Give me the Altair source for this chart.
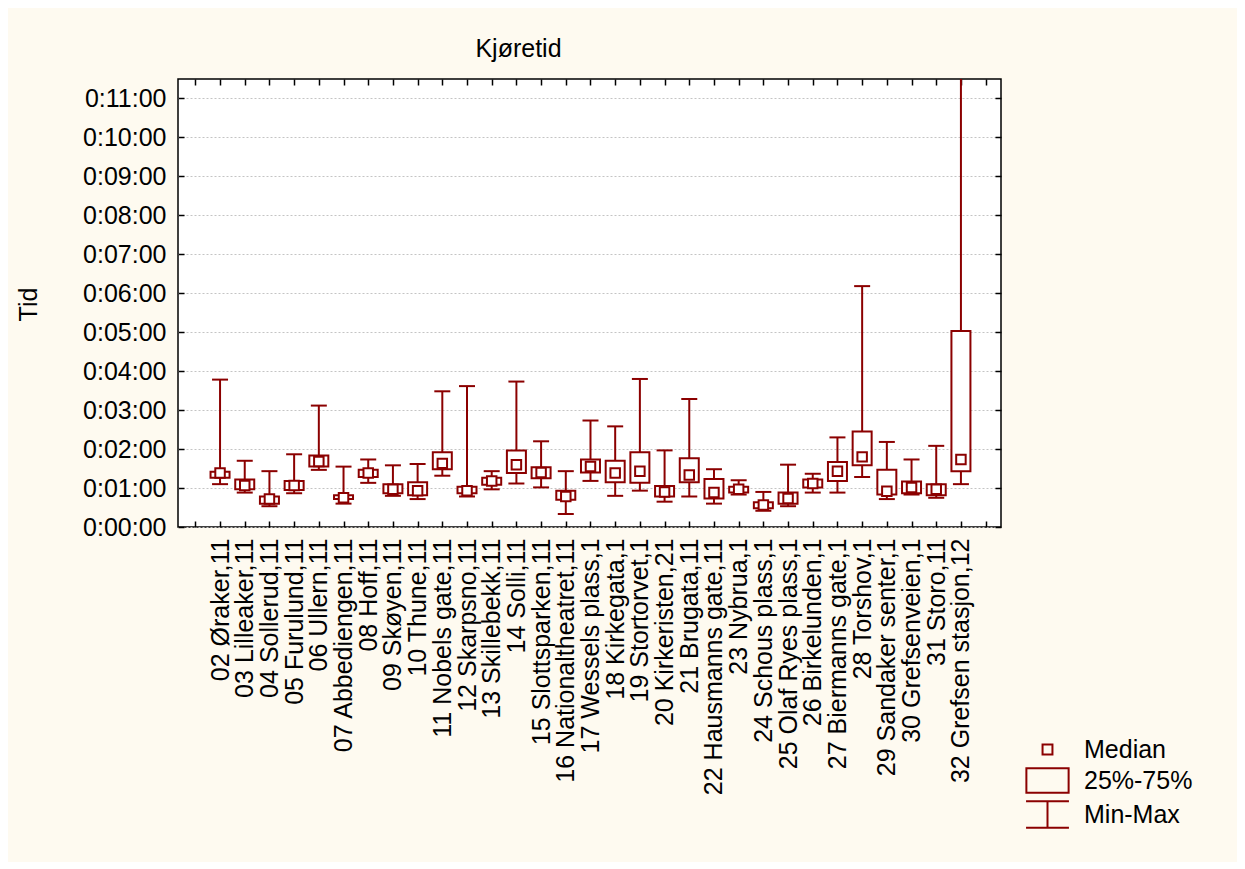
import json
import altair as alt
import pandas as pd

STATIONS = [
    "02 Øraker,11", "03 Lilleaker,11", "04 Sollerud,11", "05 Furulund,11",
    "06 Ullern,11", "07 Abbediengen,11", "08 Hoff,11", "09 Skøyen,11",
    "10 Thune,11", "11 Nobels gate,11", "12 Skarpsno,11", "13 Skillebekk,11",
    "14 Solli,11", "15 Slottsparken,11", "16 Nationaltheatret,11",
    "17 Wessels plass,1", "18 Kirkegata,1", "19 Stortorvet,1",
    "20 Kirkeristen,21", "21 Brugata,11", "22 Hausmanns gate,11",
    "23 Nybrua,1", "24 Schous plass,1", "25 Olaf Ryes plass,1",
    "26 Birkelunden,1", "27 Biermanns gate,1", "28 Torshov,1",
    "29 Sandaker senter,1", "30 Grefsenveien,1", "31 Storo,11",
    "32 Grefsen stasjon,12",
]
# seconds
MINS = [66, 53, 32, 52, 88, 36, 68, 48, 43, 79, 47, 58, 67, 61, 20,
        71, 48, 56, 39, 47, 36, 50, 25, 32, 53, 53, 77, 43, 50, 45, 66]
Q1 = [76, 58, 36, 57, 93, 43, 77, 52, 49, 89, 52, 65, 83, 75, 42,
      84, 69, 68, 47, 69, 44, 53, 29, 36, 61, 71, 95, 50, 52, 49, 86]
MEDIANS = [83, 64, 43, 64, 101, 45, 83, 58, 56, 98, 56, 71, 96, 84, 47,
           93, 83, 86, 54, 80, 53, 58, 34, 44, 67, 86, 108, 55, 61, 58, 104]
Q3 = [85, 73, 47, 71, 110, 49, 88, 66, 69, 115, 62, 76, 118, 92, 56,
      104, 102, 115, 63, 106, 74, 62, 38, 53, 73, 100, 147, 88, 70, 66, 302]
MAXS = [227, 102, 86, 112, 187, 93, 104, 95, 97, 209, 217, 86, 224, 132, 86,
        164, 155, 228, 118, 197, 89, 72, 54, 96, 82, 138, 371, 131, 104, 125, 900]

Y_TICKS = list(range(0, 661, 60))
X_TICKS = list(range(0, len(STATIONS) + 2))
LEGEND_ITEMS = ["Median", "25%-75%", "Min-Max"]

RED = "#8B0000"
FONT = "Liberation Sans"
FS = 25
W, H = 823, 448

PATHS = [
    "M-0.3,-0.3H0.3V0.3H-0.3Z",
    "M-1.28,-0.74H1.28V0.74H-1.28Z",
    "M-1.3,-0.8H1.3M0,-0.8V0.8M-1.3,0.8H1.3",
]

df = pd.DataFrame({
    "pos": list(range(1, len(STATIONS) + 1)),
    "station": STATIONS,
    "min": MINS, "q1": Q1, "median": MEDIANS, "q3": Q3, "max": MAXS,
})
legend_df = pd.DataFrame({"element": LEGEND_ITEMS})

xs = alt.Scale(domain=[-0.5, 32.42], nice=False, zero=False)
ys = alt.Scale(domain=[0, 690], nice=False, zero=True)

names_js = json.dumps(STATIONS, ensure_ascii=False)
x_label_expr = (
    f"datum.value >= 1 && datum.value <= {len(STATIONS)} ? "
    f"{names_js}[datum.value - 1] : ''"
)
y_label_expr = "'0:' + (datum.value < 600 ? '0' : '') + floor(datum.value / 60) + ':00'"

x_main = alt.Axis(
    orient="bottom", values=X_TICKS, labelExpr=x_label_expr, labelAngle=270,
    labelAlign="right", labelBaseline="middle", labelPadding=11,
    labelFontSize=FS, labelFont=FONT, labelColor="black", labelOverlap=False,
    labelFlush=False, labelBound=False, labelLimit=0, ticks=False, tickSize=0,
    domain=False, grid=False, title=None,
)
y_main = alt.Axis(
    orient="left", values=Y_TICKS, labelExpr=y_label_expr, labelPadding=12,
    labelFontSize=FS, labelFont=FONT, labelColor="black", labelOverlap=False,
    labelFlush=False, ticks=False, tickSize=0, domain=False,
    grid=True, gridColor="#c4c4c4", gridDash=[2, 2], gridWidth=1,
    title="Tid", titleFont=FONT, titleFontSize=FS, titleFontWeight="normal",
    titleColor="black", titleX=-150, titleY=225, titleAngle=270,
    titleAlign="center", titleBaseline="middle",
)


def tick_axis(orient, offset, values):
    return alt.Axis(
        orient=orient, offset=offset, values=values, labels=False, domain=False,
        grid=False, ticks=True, tickSize=6, tickColor="black", tickWidth=1.5,
        title=None,
    )


base = alt.Chart(df)

whisker = base.mark_rule(color=RED, strokeWidth=2, clip=True).encode(
    x=alt.X("pos:Q", scale=xs, axis=x_main),
    y=alt.Y("min:Q", scale=ys, axis=y_main),
    y2="max:Q",
)
cap_min = base.mark_tick(orient="horizontal", size=16, thickness=2, color=RED, opacity=1).encode(
    x=alt.X("pos:Q", scale=xs, axis=None),
    y=alt.Y("min:Q", scale=ys, axis=None),
)
cap_max = base.mark_tick(orient="horizontal", size=16, thickness=2, color=RED, opacity=1, clip=True).encode(
    x=alt.X("pos:Q", scale=xs, axis=None),
    y=alt.Y("max:Q", scale=ys, axis=None),
)
box = base.mark_bar(size=19, fill="white", stroke=RED, strokeWidth=2).encode(
    x=alt.X("pos:Q", scale=xs, axis=tick_axis("top", -H, X_TICKS)),
    y=alt.Y("q1:Q", scale=ys, axis=tick_axis("right", -W, Y_TICKS)),
    y2="q3:Q",
)
med = base.mark_square(size=90, filled=True, fill="white", stroke=RED, strokeWidth=2, opacity=1).encode(
    x=alt.X("pos:Q", scale=xs, axis=tick_axis("bottom", -H, X_TICKS)),
    y=alt.Y("median:Q", scale=ys, axis=tick_axis("left", -W, Y_TICKS)),
)
leg = alt.Chart(legend_df).mark_point(opacity=0, filled=False, color=RED).encode(
    x=alt.value(0),
    y=alt.value(0),
    shape=alt.Shape(
        "element:N",
        scale=alt.Scale(domain=LEGEND_ITEMS, range=PATHS),
        legend=alt.Legend(
            orient="none", legendX=852, legendY=653, title=None,
            symbolSize=1089, symbolStrokeColor=RED, symbolStrokeWidth=2,
            symbolFillColor="transparent", symbolOpacity=1,
            labelFontSize=FS, labelFont=FONT, labelColor="black",
            labelOffset=19, rowPadding=0, padding=0,
        ),
    ),
)

chart = (
    alt.layer(whisker, cap_min, cap_max, box, med, leg)
    .resolve_axis(x="independent", y="independent")
    .properties(
        width=W, height=H,
        title=alt.TitleParams(
            "Kjøretid", fontSize=FS, font=FONT, fontWeight="normal",
            color="black", anchor="middle", frame="group", dx=-71, dy=27,
            offset=22, baseline="alphabetic",
        ),
        padding={"left": 170, "top": 71, "right": 236, "bottom": 335},
        autosize=alt.AutoSizeParams(type="none"),
        background="#FEFAF0",
    )
    .configure_view(stroke="black", strokeWidth=1.5, fill="white")
)

chart.save("out.html", embed_options={"renderer": "svg", "actions": False})
